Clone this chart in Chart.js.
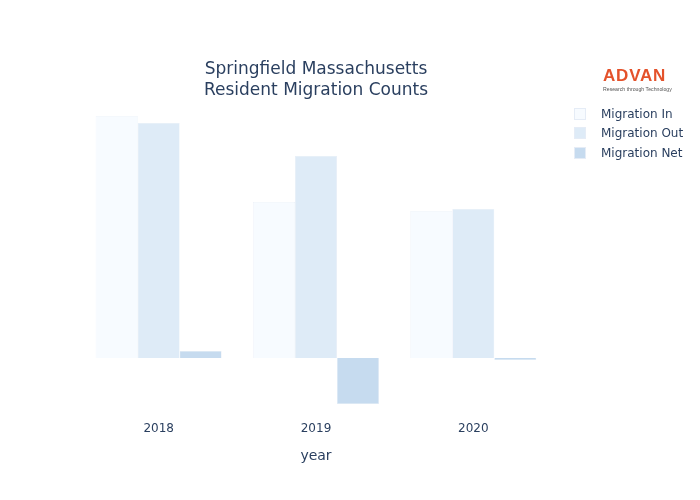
<!DOCTYPE html>
<html>
<head>
<meta charset="utf-8">
<script src="https://cdn.jsdelivr.net/npm/chart.js@4.4.0/dist/chart.umd.min.js"></script>
<style>
  body { margin: 0; background: #fff; }
  #wrap { position: relative; width: 700px; height: 500px; font-family: "DejaVu Sans", Verdana, sans-serif; color: #2a3f5f; }
  #title { position: absolute; left: 80px; width: 472px; top: 58px; text-align: center; font-size: 17px; line-height: 21px; }
  #logo { position: absolute; left: 603px; top: 66px; }
  #logo .brand { font-family: "Liberation Sans", Arial, sans-serif; font-weight: bold; font-size: 17px; color: #e4522b; line-height: 20px; letter-spacing: 0.8px; }
  #logo .tag { font-family: "Liberation Sans", Arial, sans-serif; font-size: 5.2px; color: #555; line-height: 6px; white-space: nowrap; }
  #legend { position: absolute; left: 574px; top: 104px; font-size: 12px; }
  #legend .item { display: flex; align-items: center; height: 19.5px; }
  #legend .box { width: 12px; height: 12px; margin-right: 15px; box-sizing: border-box; border: 0.5px solid #e5ecf6; }
</style>
</head>
<body>
<div id="wrap">
  <canvas id="migChart" width="700" height="500"></canvas>
  <div id="title">Springfield Massachusetts<br>Resident Migration Counts</div>
  <div id="logo"><div class="brand">ADVAN</div><div class="tag">Research through Technology</div></div>
  <div id="legend"></div>
</div>
<script>
// values (y axis is hidden, units are people)
var years = ['2018', '2019', '2020'];
var migrationIn = [24200, 15600, 14700];
var migrationOut = [23500, 20200, 14900];
var migrationNet = [700, -4600, -200];

var seriesNames = ['Migration In', 'Migration Out', 'Migration Net'];
var seriesColors = ['#f7fbff', '#deebf7', '#c6dbef'];

var textColor = '#2a3f5f';
var fontFamily = '"DejaVu Sans", Verdana, sans-serif';

var ctx = document.getElementById('migChart').getContext('2d');
var chart = new Chart(ctx, {
    type: 'bar',

    data: {
        labels: years,
        datasets: [
            { label: seriesNames[0], data: migrationIn, backgroundColor: seriesColors[0], borderColor: '#e5ecf6', borderWidth: 0.5 },
            { label: seriesNames[1], data: migrationOut, backgroundColor: seriesColors[1], borderColor: '#e5ecf6', borderWidth: 0.5 },
            { label: seriesNames[2], data: migrationNet, backgroundColor: seriesColors[2], borderColor: '#e5ecf6', borderWidth: 0.5 }
        ]
    },

    options: {
      responsive: false,
      animation: false,
      categoryPercentage: 0.8,
      barPercentage: 1.0,
      layout: {
        padding: { left: 80, right: 148, top: 100, bottom: 0 }
      },
      plugins: {
        legend: { display: false },
        title: { display: false },
        tooltip: { enabled: false }
      },
      scales: {
        y: {
          display: false,
          min: -6200,
          max: 25800
        },
        x: {
          grid: { display: false, drawTicks: false },
          border: { display: false },
          ticks: {
            color: textColor,
            padding: 2,
            font: { family: fontFamily, size: 12 }
          },
          title: {
            display: true,
            text: 'year',
            color: textColor,
            font: { family: fontFamily, size: 14 },
            padding: { top: 0, bottom: 35 }
          },
          afterFit: function (scale) { scale.height = 80; }
        }
      }
    }
});

// legend built from the datasets
var legendEl = document.getElementById('legend');
chart.data.datasets.forEach(function (ds) {
  var item = document.createElement('div');
  item.className = 'item';
  var box = document.createElement('span');
  box.className = 'box';
  box.style.background = ds.backgroundColor;
  var txt = document.createElement('span');
  txt.textContent = ds.label;
  item.appendChild(box);
  item.appendChild(txt);
  legendEl.appendChild(item);
});
</script>
</body>
</html>
